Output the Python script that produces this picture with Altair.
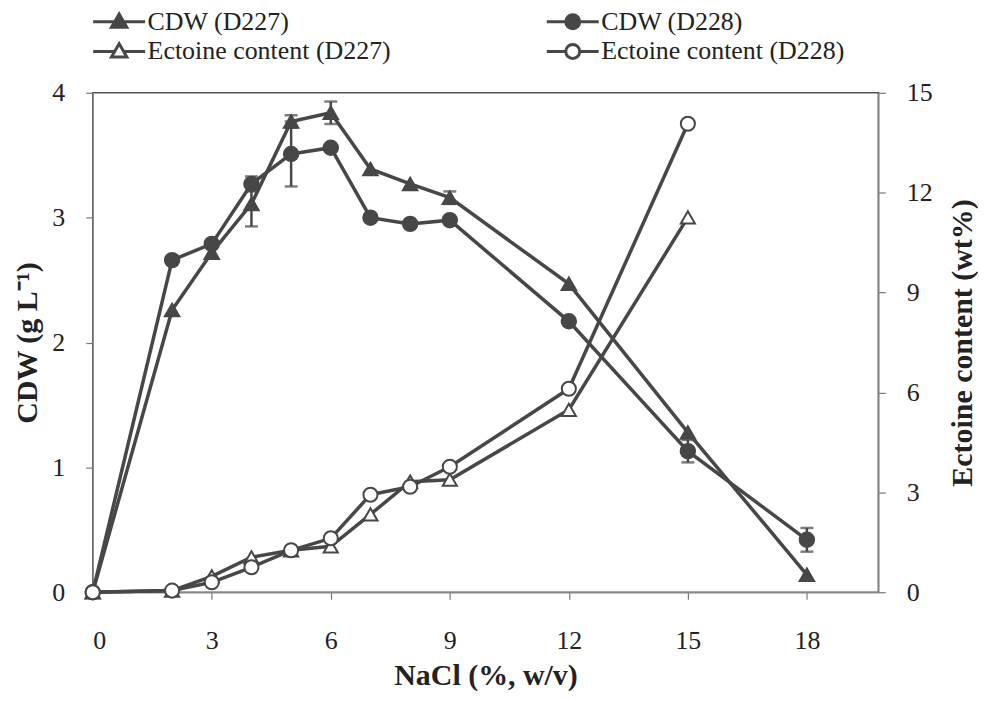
import altair as alt
import pandas as pd

# ---- data ----
nacl_cdw = [0, 2, 3, 4, 5, 6, 7, 8, 9, 12, 15, 18]
cdw_d227 = [0, 2.26, 2.72, 3.11, 3.77, 3.84, 3.39, 3.27, 3.16, 2.47, 1.28, 0.14]
cdw_d227_err = [0, 0, 0, 0.18, 0.05, 0.09, 0, 0, 0.05, 0, 0, 0]
cdw_d228 = [0, 2.66, 2.79, 3.27, 3.51, 3.56, 3.00, 2.95, 2.98, 2.17, 1.13, 0.42]
cdw_d228_err = [0, 0, 0, 0.06, 0.26, 0, 0, 0, 0, 0, 0.09, 0.095]

nacl_ect = [0, 2, 3, 4, 5, 6, 7, 8, 9, 12, 15]
ect_d227 = [0, 0.05, 0.48, 1.05, 1.26, 1.38, 2.34, 3.32, 3.38, 5.48, 11.26]
ect_d228 = [0, 0.05, 0.30, 0.75, 1.26, 1.62, 2.93, 3.17, 3.77, 6.11, 14.07]

series_names = ["CDW (D227)", "CDW (D228)", "Ectoine content (D227)", "Ectoine content (D228)"]
x_ticks = [0, 3, 6, 9, 12, 15, 18]
cdw_ticks = [0, 1, 2, 3, 4]
ect_ticks = [0, 3, 6, 9, 12, 15]

DARK = "#474747"
FONT = "Liberation Serif"

# ---- tables ----
cdw_rows = []
for name, ys, es in [(series_names[0], cdw_d227, cdw_d227_err), (series_names[1], cdw_d228, cdw_d228_err)]:
    for x, y, e in zip(nacl_cdw, ys, es):
        cdw_rows.append({"x": x, "y": y, "err": e, "lo": y - e, "hi": y + e, "series": name})
cdw_df = pd.DataFrame(cdw_rows)

ect_rows = []
for name, ys in [(series_names[2], ect_d227), (series_names[3], ect_d228)]:
    for x, y in zip(nacl_ect, ys):
        ect_rows.append({"x": x, "y": y, "series": name})
ect_df = pd.DataFrame(ect_rows)

# ---- shared encodings ----
x_enc = alt.X("x:Q", scale=alt.Scale(domain=[0, 19.8], nice=False, zero=False),
              axis=alt.Axis(values=x_ticks, format="d", title="NaCl (%, w/v)",
                            labelPadding=28, titlePadding=8))

# legend symbols: a line with the marker in the middle
tri = "M-1.86,0L-0.32,0M0.32,0L1.86,0M0,-0.55L0.55,0.4L-0.55,0.4Z"
circ = "M-1.86,0L-0.5,0M0.5,0L1.86,0M-0.5,0A0.5,0.5,0,1,0,0.5,0A0.5,0.5,0,1,0,-0.5,0Z"

legend = alt.Legend(
    title=None, orient="none", legendX=11, legendY=-87, columns=2, direction="horizontal",
    columnPadding=149, rowPadding=1, labelFont=FONT, labelFontSize=26,
    labelColor="#222", labelLimit=600, labelOffset=13, symbolSize=784,
    symbolStrokeWidth=3, symbolOpacity=1,
)
shape_enc = alt.Shape("series:N", scale=alt.Scale(domain=series_names,
                      range=[tri, circ, tri, circ]), legend=legend)
fill_enc = alt.Fill("series:N", scale=alt.Scale(domain=series_names,
                    range=[DARK, DARK, "white", "white"]), legend=legend)
stroke_enc = alt.Stroke("series:N", scale=alt.Scale(domain=series_names,
                        range=[DARK, DARK, DARK, DARK]), legend=legend)

# ---- left (CDW) ----
y_left = alt.Y("y:Q", scale=alt.Scale(domain=[0, 4], nice=False),
               axis=alt.Axis(orient="left", values=cdw_ticks, format="d", title="CDW (g L⁻¹)",
                             labelPadding=21, titlePadding=9))
cdw_base = alt.Chart(cdw_df)
cdw_lines = cdw_base.mark_line(color=DARK, strokeWidth=3.5).encode(
    x=x_enc, y=y_left, detail="series:N")
err_base = cdw_base.transform_filter("datum.err > 0")
cdw_rule = err_base.mark_rule(color=DARK, strokeWidth=2.5).encode(
    x=x_enc, y=alt.Y("lo:Q"), y2="hi:Q")
cdw_cap_lo = err_base.mark_tick(color=DARK, orient="horizontal", size=13, thickness=2.5).encode(
    x=x_enc, y=alt.Y("lo:Q"))
cdw_cap_hi = err_base.mark_tick(color=DARK, orient="horizontal", size=13, thickness=2.5).encode(
    x=x_enc, y=alt.Y("hi:Q"))
cdw_tri = cdw_base.transform_filter(alt.datum.series == series_names[0]).mark_point(
    shape="triangle-up", filled=True, size=210, fill=DARK, stroke=DARK, strokeWidth=2, opacity=1
).encode(x=x_enc, y=y_left)
cdw_circ = cdw_base.transform_filter(alt.datum.series == series_names[1]).mark_point(
    shape="circle", filled=True, size=210, fill=DARK, stroke=DARK, strokeWidth=2, opacity=1
).encode(x=x_enc, y=y_left)
legend_layer = cdw_base.mark_point(filled=True, size=10, opacity=0, strokeWidth=3).encode(
    x=x_enc, y=y_left, shape=shape_enc, fill=fill_enc, stroke=stroke_enc)
left = alt.layer(cdw_lines, cdw_rule, cdw_cap_lo, cdw_cap_hi, cdw_tri, cdw_circ, legend_layer)

# ---- right (Ectoine) ----
y_right = alt.Y("y:Q", scale=alt.Scale(domain=[0, 15], nice=False),
                axis=alt.Axis(orient="right", values=ect_ticks, format="d",
                              title="Ectoine content (wt%)", titleAngle=270, titleBaseline="top",
                              labelPadding=21, titlePadding=15))
ect_base = alt.Chart(ect_df)
ect_lines = ect_base.mark_line(color=DARK, strokeWidth=3.5).encode(
    x=x_enc, y=y_right, detail="series:N")
ect_tri = ect_base.transform_filter(alt.datum.series == series_names[2]).mark_point(
    shape="triangle-up", filled=True, size=200, fill="white", stroke=DARK, strokeWidth=2, opacity=1
).encode(x=x_enc, y=y_right)
ect_circ = ect_base.transform_filter(alt.datum.series == series_names[3]).mark_point(
    shape="circle", filled=True, size=200, fill="white", stroke=DARK, strokeWidth=2, opacity=1
).encode(x=x_enc, y=y_right)
right = alt.layer(ect_lines, ect_tri, ect_circ)

chart = alt.layer(left, right).resolve_scale(y="independent").properties(
    width=788, height=501,
    autosize=alt.AutoSizeParams(type="none"),
    padding={"left": 85, "top": 84, "right": 100, "bottom": 100},
).configure_view(stroke="#555", strokeWidth=1.5).configure_axis(
    labelFont=FONT, labelFontSize=26, labelColor="#222",
    titleFont=FONT, titleFontSize=30, titleFontWeight="bold", titleColor="#222",
    tickColor="#777", tickSize=7, tickWidth=1.2, domainColor="#888", domainWidth=1.5, grid=False,
)

chart.save("out.html", embed_options={"renderer": "svg", "actions": False})
